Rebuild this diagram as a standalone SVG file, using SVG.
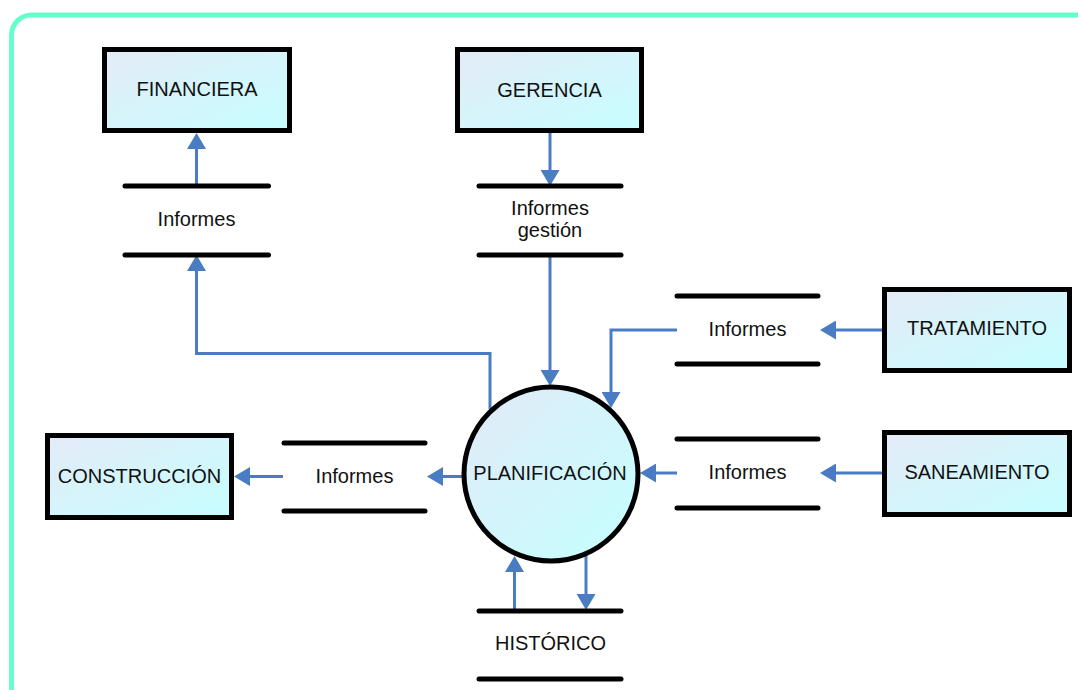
<svg xmlns="http://www.w3.org/2000/svg" width="1078" height="690" viewBox="0 0 1078 690">
  <defs>
    <linearGradient id="boxFill" x1="0" y1="0" x2="1" y2="1">
      <stop offset="0" stop-color="#e4ebf7"/>
      <stop offset="1" stop-color="#c6feff"/>
    </linearGradient>
    <linearGradient id="circleFill" x1="0" y1="0" x2="1" y2="1">
      <stop offset="0" stop-color="#e2eaf7"/>
      <stop offset="1" stop-color="#c4ffff"/>
    </linearGradient>
    <marker id="arrow" viewBox="0 0 16 19" refX="8" refY="9.5" markerWidth="16" markerHeight="19" markerUnits="userSpaceOnUse" orient="auto">
      <path d="M0,0 L16,9.5 L0,19 Z" fill="#4a7cc3"/>
    </marker>
    <style>
      .entity { fill: url(#boxFill); stroke: #000; stroke-width: 5; }
      .process { fill: url(#circleFill); stroke: #000; stroke-width: 5; }
      .store { stroke: #000; stroke-width: 5; stroke-linecap: round; fill: none; }
      .label { font-family: "Liberation Sans", Arial, sans-serif; font-size: 20px; fill: #111; text-anchor: middle; }
      .flow { fill: none; stroke: #4a7cc3; stroke-width: 3; }
      .flow.arrowed { marker-end: url(#arrow); }
      .frame { fill: none; stroke: #66ffcc; stroke-width: 5; }
    </style>
  </defs>

  <rect width="1078" height="690" fill="#fff"/>
  <rect class="frame" x="11.5" y="15" width="1110" height="720" rx="20" ry="20"/>

  <!-- data flows -->
  <g id="connectors">
    <path class="flow arrowed" d="M196.5,186 V141"/>
    <path class="flow arrowed" d="M490,409 V353.5 H196.5 V263"/>
    <path class="flow arrowed" d="M550,133 V178"/>
    <path class="flow arrowed" d="M550,255 V378"/>
    <path class="flow arrowed" d="M882,330 H828"/>
    <path class="flow arrowed" d="M677,330 H611 V400"/>
    <path class="flow arrowed" d="M882,473 H828"/>
    <path class="flow arrowed" d="M677,473 H648"/>
    <path class="flow arrowed" d="M462,476.5 H435"/>
    <path class="flow arrowed" d="M283,476.5 H242"/>
    <path class="flow arrowed" d="M514.5,610 V564"/>
    <path class="flow arrowed" d="M586,555 V602"/>
  </g>

  <!-- external entities -->
  <g id="financiera">
    <rect class="entity" x="104.5" y="49.5" width="185" height="81"/>
    <text class="label" x="197" y="96">FINANCIERA</text>
  </g>
  <g id="gerencia">
    <rect class="entity" x="457.5" y="49.5" width="184" height="81"/>
    <text class="label" x="549.5" y="96.5">GERENCIA</text>
  </g>
  <g id="tratamiento">
    <rect class="entity" x="884.5" y="289.5" width="185" height="81"/>
    <text class="label" x="977" y="335">TRATAMIENTO</text>
  </g>
  <g id="saneamiento">
    <rect class="entity" x="884.5" y="432.5" width="185" height="82"/>
    <text class="label" x="977" y="479">SANEAMIENTO</text>
  </g>
  <g id="construccion">
    <rect class="entity" x="47.5" y="435.5" width="184" height="82"/>
    <text class="label" x="139.5" y="482.5">CONSTRUCCIÓN</text>
  </g>

  <!-- process -->
  <g id="planificacion">
    <circle class="process" cx="551" cy="474" r="87"/>
    <text class="label" x="550" y="479.5">PLANIFICACIÓN</text>
  </g>

  <!-- data stores -->
  <g id="store-informes-financiera">
    <line class="store" x1="125" y1="186" x2="268.5" y2="186"/>
    <line class="store" x1="125" y1="255" x2="268.5" y2="255"/>
    <text class="label" x="196.5" y="226">Informes</text>
  </g>
  <g id="store-informes-gestion">
    <line class="store" x1="479" y1="186" x2="621" y2="186"/>
    <line class="store" x1="479" y1="255" x2="621" y2="255"/>
    <text class="label" x="550" y="215">Informes</text>
    <text class="label" x="550" y="237">gestión</text>
  </g>
  <g id="store-informes-tratamiento">
    <line class="store" x1="677" y1="296" x2="818" y2="296"/>
    <line class="store" x1="677" y1="364" x2="818" y2="364"/>
    <text class="label" x="747.5" y="336">Informes</text>
  </g>
  <g id="store-informes-saneamiento">
    <line class="store" x1="677" y1="439" x2="818" y2="439"/>
    <line class="store" x1="677" y1="508" x2="818" y2="508"/>
    <text class="label" x="747.5" y="479">Informes</text>
  </g>
  <g id="store-informes-construccion">
    <line class="store" x1="284" y1="443" x2="425" y2="443"/>
    <line class="store" x1="284" y1="511" x2="425" y2="511"/>
    <text class="label" x="354.5" y="482.5">Informes</text>
  </g>
  <g id="store-historico">
    <line class="store" x1="479" y1="611" x2="621" y2="611"/>
    <line class="store" x1="479" y1="679" x2="621" y2="679"/>
    <text class="label" x="550.5" y="650">HISTÓRICO</text>
  </g>
</svg>
